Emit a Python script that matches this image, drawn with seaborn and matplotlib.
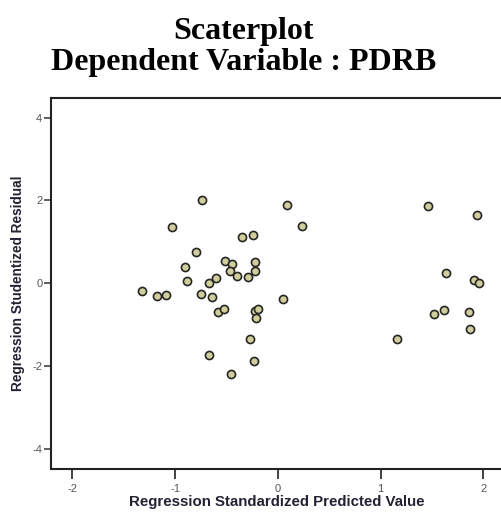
import matplotlib
matplotlib.use("Agg")
import matplotlib.pyplot as plt
import numpy as np
import pandas as pd
import seaborn as sns

# values
pred = [-1.32, -1.18, -1.09, -1.03, -0.74, -0.80, -0.90, -0.88, -0.75, -0.67,
        -0.60, -0.64, -0.51, -0.45, -0.47, -0.40, -0.35, -0.24, -0.29, -0.22,
        -0.22, -0.58, -0.52, -0.67, -0.46, -0.27, -0.23, -0.22, -0.19, -0.21,
        0.05, 0.09, 0.23, 1.16, 1.46, 1.52, 1.62, 1.64, 1.94, 1.91, 1.96,
        1.86, 1.87]
resid = [-0.19, -0.31, -0.29, 1.37, 2.02, 0.75, 0.40, 0.05, -0.25, 0.01,
         0.14, -0.33, 0.53, 0.46, 0.29, 0.18, 1.12, 1.17, 0.15, 0.30,
         0.52, -0.68, -0.62, -1.73, -2.18, -1.35, -1.88, -0.66, -0.62, -0.84,
         -0.38, 1.90, 1.38, -1.35, 1.86, -0.73, -0.65, 0.24, 1.66, 0.07, 0.01,
         -0.69, -1.11]

df = pd.DataFrame({"pred": pred, "resid": resid})

sns.set_style("white")
plt.rcParams['font.family'] = ['Liberation Sans', 'DejaVu Sans']

fig = plt.figure(figsize=(5.02, 5.2), dpi=100)
ax = fig.add_axes([0.101, 0.098, 0.899, 0.7135])

sns.scatterplot(data=df, x="pred", y="resid", ax=ax, s=34,
                color="#d0cf9c", edgecolor="#262626", linewidth=1.2)

ax.set_xlim(-2.21, 2.18)
ax.set_ylim(-4.48, 4.47)
ax.set_xticks([-2, -1, 0, 1, 2])
ax.set_yticks([-4, -2, 0, 2, 4])
ax.set_xticklabels(["-2", "-1", "0", "1", "2"])
ax.set_yticklabels(["-4", "-2", "0", "2", "4"])
ax.tick_params(axis='x', direction='out', length=7, width=1.3, colors='#333333',
               labelsize=8, pad=4, bottom=True)
ax.tick_params(axis='y', direction='out', length=5, width=1.1, colors='#333333',
               labelsize=8, pad=1, left=True)
for lbl in ax.get_xticklabels() + ax.get_yticklabels():
    lbl.set_color('#555555')

for side in ['left', 'bottom', 'top']:
    ax.spines[side].set_color('#222222')
    ax.spines[side].set_linewidth(1.5)
ax.spines['right'].set_visible(False)

ax.set_xlabel("Regression Standardized Predicted Value", fontsize=10.8,
              fontweight='bold', color='#222233', labelpad=0.5)
ax.set_ylabel("Regression Studentized Residual", fontsize=9.8,
              fontweight='bold', color='#222233', labelpad=5)

fig.text(0.485, 0.940, "Scaterplot", ha='center', va='center', fontsize=23,
         fontweight='bold', color='black',
         family=['Liberation Serif', 'DejaVu Serif'])
fig.text(0.485, 0.879, "Dependent Variable : PDRB", ha='center', va='center',
         fontsize=23, fontweight='bold', color='black',
         family=['Liberation Serif', 'DejaVu Serif'])

fig.savefig("out.png", dpi=100)
